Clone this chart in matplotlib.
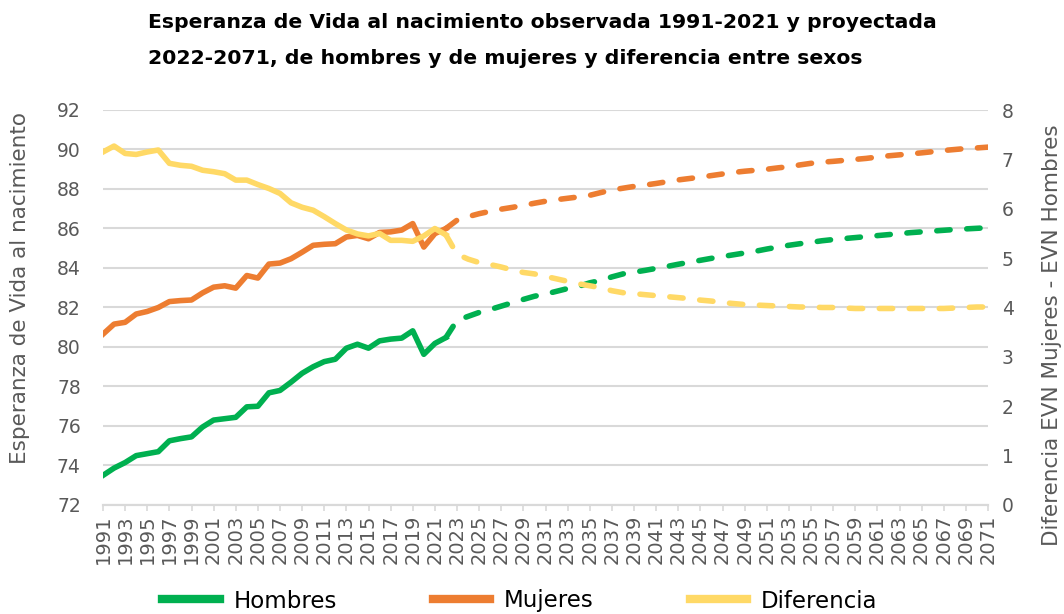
import numpy as np
import matplotlib
matplotlib.use("Agg")
import matplotlib.pyplot as plt
from matplotlib.lines import Line2D

# observed 1991-2022 (solid) and projected 2022-2071 (dashed)
years_obs = np.arange(1991, 2023)
years_proj = np.arange(2022, 2072)

hombres_obs = [73.5, 73.87, 74.15, 74.5, 74.6, 74.7, 75.25, 75.36, 75.45, 75.95,
               76.3, 76.37, 76.44, 76.97, 77.0, 77.68, 77.8, 78.22, 78.67, 79.0,
               79.26, 79.38, 79.94, 80.14, 79.94, 80.31, 80.4, 80.45, 80.82, 79.63,
               80.18, 80.48]
mujeres_obs = [80.65, 81.16, 81.25, 81.67, 81.8, 82.0, 82.3, 82.35, 82.38, 82.74,
               83.03, 83.1, 82.98, 83.62, 83.49, 84.2, 84.25, 84.47, 84.8, 85.15,
               85.2, 85.23, 85.57, 85.65, 85.48, 85.8, 85.83, 85.92, 86.25, 85.06,
               85.74, 86.0]
dif_obs = [7.15, 7.27, 7.12, 7.1, 7.15, 7.19, 6.92, 6.88, 6.86, 6.78,
           6.75, 6.71, 6.58, 6.58, 6.49, 6.41, 6.31, 6.12, 6.03, 5.97,
           5.84, 5.7, 5.57, 5.49, 5.45, 5.5, 5.36, 5.36, 5.34, 5.45,
           5.6, 5.47]

hombres_proj = [80.48, 81.35, 81.55, 81.75, 81.9, 82.07, 82.24, 82.41, 82.57, 82.68,
                82.82, 82.96, 83.07, 83.25, 83.37, 83.55, 83.7, 83.79, 83.88, 83.98,
                84.08, 84.19, 84.29, 84.39, 84.49, 84.58, 84.67, 84.76, 84.85, 84.96,
                85.06, 85.15, 85.23, 85.3, 85.38, 85.44, 85.49, 85.54, 85.59, 85.64,
                85.69, 85.74, 85.79, 85.83, 85.87, 85.91, 85.95, 85.98, 86.01, 86.04]
mujeres_proj = [86.0, 86.42, 86.6, 86.75, 86.87, 86.98, 87.07, 87.17, 87.28, 87.38,
                87.46, 87.53, 87.6, 87.68, 87.82, 87.95, 88.04, 88.13, 88.2, 88.28,
                88.37, 88.46, 88.53, 88.6, 88.68, 88.76, 88.84, 88.9, 88.95, 89.0,
                89.07, 89.13, 89.22, 89.3, 89.36, 89.4, 89.45, 89.5, 89.55, 89.62,
                89.68, 89.73, 89.78, 89.83, 89.89, 89.95, 90.0, 90.05, 90.08, 90.12]
dif_proj = [5.47, 5.08, 4.98, 4.91, 4.87, 4.82, 4.76, 4.71, 4.68, 4.63,
            4.58, 4.53, 4.48, 4.44, 4.4, 4.34, 4.3, 4.28, 4.26, 4.24,
            4.22, 4.2, 4.18, 4.15, 4.13, 4.1, 4.08, 4.06, 4.05, 4.04,
            4.03, 4.02, 4.01, 4.01, 4.0, 4.0, 3.99, 3.98, 3.98, 3.98,
            3.98, 3.98, 3.98, 3.98, 3.98, 3.98, 3.99, 4.0, 4.01, 4.01]

GREEN = "#00B050"
ORANGE = "#ED7D31"
YELLOW = "#FFD966"
GRID = "#D9D9D9"
TXT = "#595959"
LW = 4
DASH = (0, (2.4, 3.0))

fig = plt.figure(figsize=(10.64, 6.14), dpi=100)
ax = fig.add_axes([103 / 1064, 1 - 505 / 614, 885 / 1064, 395 / 614])
ax2 = ax.twinx()

ax.plot(years_obs, hombres_obs, color=GREEN, lw=LW, solid_joinstyle="round")
ax.plot(years_proj, hombres_proj, color=GREEN, lw=LW, ls=DASH, dash_capstyle="round")
ax.plot(years_obs, mujeres_obs, color=ORANGE, lw=LW, solid_joinstyle="round")
ax.plot(years_proj, mujeres_proj, color=ORANGE, lw=LW, ls=DASH, dash_capstyle="round")
ax2.plot(years_obs, dif_obs, color=YELLOW, lw=LW, solid_joinstyle="round")
ax2.plot(years_proj, dif_proj, color=YELLOW, lw=LW, ls=DASH, dash_capstyle="round")

ax.set_xlim(1991, 2071)
ax.set_ylim(72, 92)
ax.set_yticks(range(72, 93, 2))
ax2.set_ylim(0, 8)
ax2.set_yticks(range(0, 9))
ax.set_xticks(range(1991, 2072, 2))
ax.set_xticklabels([str(y) for y in range(1991, 2072, 2)], rotation=90)

ax.grid(axis="y", color=GRID, lw=1.5)
ax.set_axisbelow(True)
for a in (ax, ax2):
    for s in ("top", "left", "right"):
        a.spines[s].set_visible(False)
    a.spines["bottom"].set_color(GRID)
    a.spines["bottom"].set_linewidth(1.5)
ax.tick_params(axis="x", colors=GRID, labelcolor=TXT, labelsize=14, length=4, width=1.2, pad=3)
ax.tick_params(axis="y", length=0, labelcolor=TXT, labelsize=13.5, pad=16)
ax2.tick_params(axis="y", length=0, labelcolor=TXT, labelsize=13.5, pad=10)

fig.text(20 / 1064, 1 - 288 / 614, "Esperanza de Vida al nacimiento", rotation=90,
         ha="center", va="center", fontsize=15.5, color=TXT)
fig.text(1052 / 1064, 1 - 335 / 614, "Diferencia EVN Mujeres - EVN Hombres", rotation=90,
         ha="center", va="center", fontsize=15.5, color=TXT)

fig.text(148 / 1064, 1 - 22 / 614, "Esperanza de Vida al nacimiento observada 1991-2021 y proyectada",
         ha="left", va="center", fontsize=14.7, fontweight="bold", color="black")
fig.text(148 / 1064, 1 - 58 / 614, "2022-2071, de hombres y de mujeres y diferencia entre sexos",
         ha="left", va="center", fontsize=14.7, fontweight="bold", color="black")

handles = [Line2D([], [], color=GREEN, lw=6),
           Line2D([], [], color=ORANGE, lw=6),
           Line2D([], [], color=YELLOW, lw=6)]
fig.legend(handles, ["Hombres", "Mujeres", "Diferencia"], loc="center",
           bbox_to_anchor=(520 / 1064, 1 - 601 / 614), ncol=3, frameon=False,
           fontsize=16.5, handlelength=2.5, handletextpad=0.6, columnspacing=4.2,
           labelcolor="black")

fig.savefig("out.png", dpi=100)
